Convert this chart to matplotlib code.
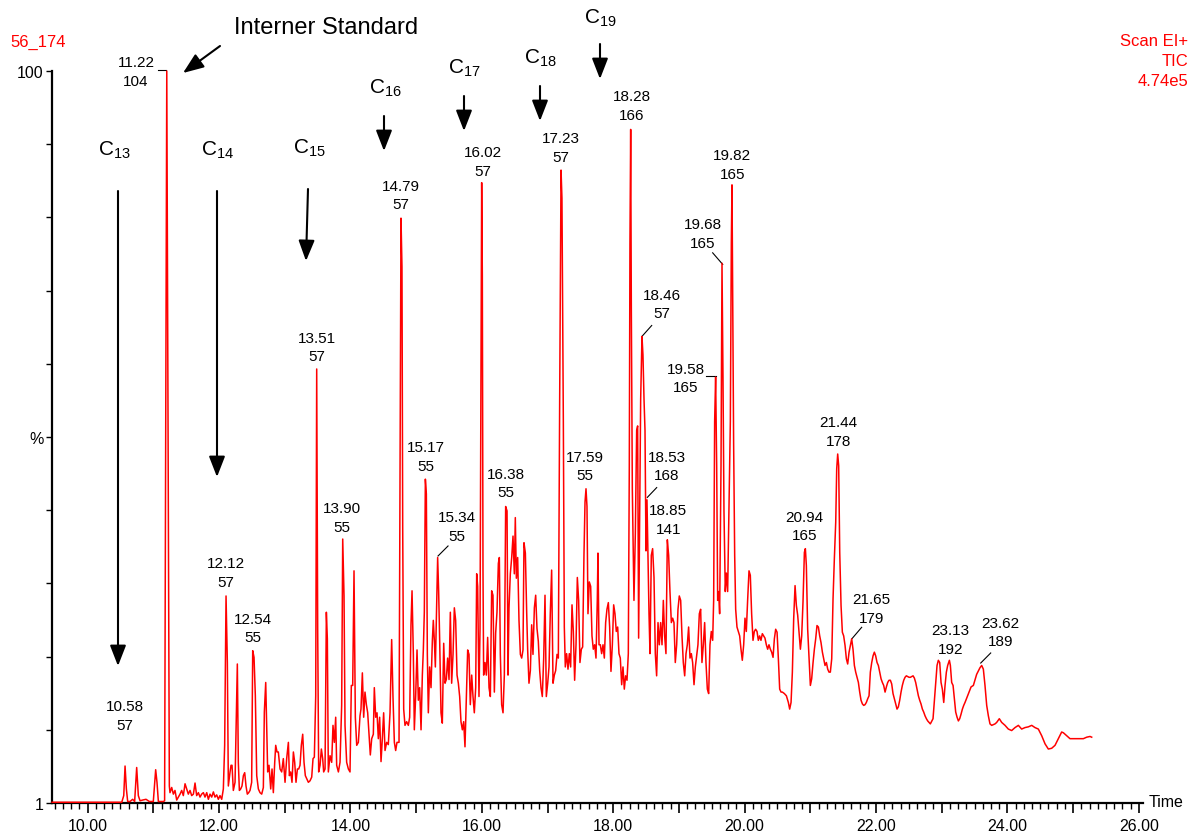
import matplotlib.pyplot as plt
from matplotlib.ticker import MultipleLocator, FixedLocator, FuncFormatter

plt.rcParams['font.family'] = ['Liberation Sans', 'DejaVu Sans']
plt.rcParams['mathtext.fontset'] = 'custom'
plt.rcParams['mathtext.rm'] = 'Liberation Sans'
plt.rcParams['mathtext.it'] = 'Liberation Sans'
plt.rcParams['mathtext.default'] = 'regular'

# === TIC trace: retention time (min) and relative abundance (%) ===
time_min = [
    9.46, 10.52, 10.55, 10.57, 10.59, 10.61, 10.645, 10.686, 10.716, 10.747, 10.772, 10.798,
    10.838, 10.889, 10.94, 11.0, 11.036, 11.056, 11.077, 11.153, 11.172, 11.205,
    11.244, 11.254, 11.28, 11.305, 11.33, 11.356, 11.381, 11.407, 11.432, 11.457, 11.483,
    11.508, 11.533, 11.559, 11.584, 11.61, 11.635, 11.66, 11.686, 11.711, 11.736, 11.762,
    11.787, 11.813, 11.838, 11.863, 11.889, 11.914, 11.939, 11.965, 11.99, 12.015, 12.041,
    12.066, 12.086, 12.107, 12.127, 12.142, 12.168, 12.183, 12.198, 12.218, 12.244, 12.259,
    12.279, 12.294, 12.31, 12.33, 12.35, 12.371, 12.391, 12.411, 12.431, 12.452, 12.472,
    12.497, 12.513, 12.533, 12.553, 12.574, 12.599, 12.624, 12.65, 12.675, 12.69, 12.711,
    12.726, 12.741, 12.761, 12.787, 12.807, 12.827, 12.848, 12.863, 12.883, 12.903, 12.929,
    12.954, 12.979, 13.005, 13.03, 13.056, 13.071, 13.091, 13.111, 13.132, 13.152, 13.172,
    13.193, 13.213, 13.233, 13.253, 13.274, 13.294, 13.314, 13.335, 13.36, 13.385, 13.411,
    13.431, 13.451, 13.472, 13.487, 13.502, 13.517, 13.538, 13.558, 13.578, 13.593, 13.614,
    13.634, 13.649, 13.664, 13.69, 13.715, 13.735, 13.756, 13.776, 13.791, 13.817, 13.842,
    13.867, 13.883, 13.903, 13.918, 13.943, 13.969, 13.994, 14.014, 14.035, 14.055, 14.075,
    14.096, 14.121, 14.146,
    14.161, 14.182, 14.202, 14.222, 14.243, 14.263, 14.283, 14.303, 14.324, 14.349, 14.364,
    14.385, 14.405, 14.425, 14.445, 14.466, 14.486, 14.506, 14.527, 14.552, 14.577, 14.603,
    14.628, 14.648, 14.669, 14.689, 14.709, 14.74, 14.755, 14.77, 14.785, 14.796, 14.811,
    14.831, 14.856, 14.882, 14.902, 14.922, 14.938, 14.958, 14.973, 14.993, 15.014, 15.034,
    15.054, 15.075, 15.095, 15.11, 15.125, 15.141, 15.156, 15.171, 15.186, 15.206, 15.227,
    15.247, 15.262, 15.278, 15.293, 15.308, 15.328, 15.343, 15.359, 15.379, 15.399, 15.42,
    15.44, 15.46, 15.48, 15.501, 15.521, 15.541, 15.562, 15.582, 15.602, 15.623, 15.643,
    15.663, 15.683, 15.704, 15.724, 15.744, 15.765, 15.785, 15.805, 15.825, 15.846, 15.866,
    15.886, 15.907, 15.922, 15.937, 15.957, 15.973, 15.988, 15.998, 16.008, 16.018, 16.028,
    16.049, 16.069, 16.089, 16.11, 16.13, 16.15, 16.17, 16.191, 16.211, 16.231, 16.252,
    16.267, 16.282, 16.302, 16.323, 16.343, 16.363, 16.384, 16.399, 16.414, 16.434, 16.455,
    16.475, 16.495, 16.51, 16.526, 16.546, 16.566, 16.587, 16.607, 16.627, 16.642, 16.663,
    16.683, 16.698, 16.718, 16.739, 16.759, 16.779, 16.8, 16.82, 16.84, 16.86, 16.881,
    16.901, 16.921, 16.942, 16.962, 16.982, 17.003, 17.023, 17.043, 17.063, 17.084, 17.104,
    17.124, 17.145, 17.165, 17.185, 17.206,
    17.22, 17.241, 17.256, 17.271, 17.291, 17.312, 17.332, 17.352, 17.373, 17.393, 17.413,
    17.434, 17.454, 17.474, 17.494, 17.515, 17.535, 17.555, 17.571, 17.586, 17.601, 17.616,
    17.636, 17.657, 17.677, 17.697, 17.718, 17.738, 17.758, 17.768, 17.784, 17.804, 17.824,
    17.845, 17.865, 17.885, 17.905, 17.926, 17.946, 17.966, 17.987, 18.007, 18.027, 18.047,
    18.068, 18.088, 18.108, 18.129, 18.149, 18.169, 18.189, 18.21, 18.23, 18.245, 18.255,
    18.266, 18.276, 18.291, 18.316, 18.337, 18.357, 18.372, 18.387, 18.403, 18.418, 18.438,
    18.453, 18.469, 18.484, 18.499, 18.514, 18.529, 18.545, 18.56, 18.58, 18.6, 18.621,
    18.641, 18.661, 18.682, 18.702, 18.722, 18.743, 18.763, 18.783, 18.803, 18.824, 18.844,
    18.864, 18.885, 18.905, 18.925, 18.945, 18.966, 18.986, 19.006, 19.027, 19.047, 19.067,
    19.088, 19.108, 19.128, 19.148, 19.169, 19.189, 19.209, 19.23, 19.25, 19.27, 19.29,
    19.311, 19.331, 19.351, 19.372, 19.392, 19.412, 19.433, 19.453, 19.473, 19.493, 19.514,
    19.529, 19.544, 19.559, 19.575, 19.59, 19.605, 19.62, 19.641, 19.656, 19.671, 19.686,
    19.706, 19.722, 19.742, 19.762, 19.783, 19.798, 19.808, 19.818, 19.833, 19.849, 19.864,
    19.884, 19.904, 19.925, 19.945, 19.965, 19.986, 20.006, 20.026, 20.046, 20.067, 20.087,
    20.107, 20.128, 20.148, 20.168, 20.189, 20.209, 20.229, 20.249, 20.27, 20.29, 20.31,
    20.331, 20.351, 20.371,
    20.392, 20.412, 20.433, 20.453, 20.473, 20.494, 20.514, 20.534, 20.555, 20.575, 20.605,
    20.636, 20.666, 20.686, 20.707, 20.727, 20.747, 20.768, 20.788, 20.808, 20.829, 20.849,
    20.869, 20.889, 20.91, 20.925, 20.94, 20.96, 20.981, 21.001, 21.021, 21.042, 21.062,
    21.082, 21.102, 21.123, 21.143, 21.163, 21.184, 21.204, 21.224, 21.245, 21.265, 21.285,
    21.305, 21.326, 21.346, 21.366, 21.387, 21.402, 21.417, 21.432, 21.448, 21.468, 21.488,
    21.508, 21.529, 21.549, 21.569, 21.59, 21.61, 21.63, 21.65, 21.671, 21.691, 21.711,
    21.732, 21.752, 21.772, 21.793, 21.813, 21.833, 21.853, 21.874, 21.894, 21.914, 21.935,
    21.955, 21.975, 21.995, 22.016, 22.036, 22.056, 22.077, 22.097, 22.117, 22.138, 22.158,
    22.178, 22.198, 22.219, 22.239, 22.259, 22.28, 22.3, 22.32, 22.34, 22.361, 22.381,
    22.401, 22.422, 22.442, 22.462, 22.483, 22.503, 22.523, 22.543, 22.564, 22.584, 22.604,
    22.625, 22.645, 22.665, 22.685, 22.706, 22.726, 22.746, 22.767, 22.787, 22.807, 22.827,
    22.868, 22.898, 22.929, 22.949, 22.97, 22.99, 23.01, 23.031, 23.051, 23.071, 23.091,
    23.117, 23.132, 23.152, 23.173, 23.193, 23.213, 23.234, 23.254, 23.274, 23.294, 23.315,
    23.335, 23.355, 23.386, 23.416, 23.447,
    23.482, 23.532, 23.583, 23.609, 23.634, 23.659, 23.685, 23.71, 23.735, 23.761, 23.812,
    23.837, 23.877, 23.913, 23.964, 24.014, 24.065, 24.116, 24.167, 24.217, 24.268, 24.319,
    24.37, 24.42, 24.471, 24.522, 24.573, 24.623, 24.674, 24.725, 24.775, 24.826, 24.852,
    24.902, 24.953, 25.004, 25.055, 25.105, 25.156, 25.207, 25.258, 25.283,
]
intensity_pct = [
    1.1, 1.1, 2.0, 6.0, 2.9, 1.2, 1.2, 1.5, 1.2, 5.8, 2.0, 1.3,
    1.4, 1.5, 1.2, 1.2, 5.5, 3.8, 1.2, 1.2, 1.3, 100.0,
    3.3, 2.4, 3.1, 2.2, 2.7, 1.4, 1.8, 2.2, 2.7, 2.0, 3.6,
    2.9, 2.2, 2.7, 2.0, 2.2, 3.7, 2.0, 2.4, 1.8, 2.2, 2.4,
    1.8, 2.4, 1.5, 2.2, 1.8, 2.5, 1.8, 2.1, 1.5, 2.0, 1.5,
    2.9, 8.8, 29.0, 20.0, 3.3, 5.2, 6.1, 6.1, 2.7, 3.8, 11.0,
    19.8, 6.5, 2.7, 2.9, 3.3, 4.7, 5.1, 3.3, 2.2, 2.4, 2.7,
    3.8, 21.6, 20.7, 15.5, 4.7, 2.9, 2.4, 2.2, 3.1, 13.3, 17.3,
    11.0, 5.2, 6.1, 2.9, 5.6, 2.4, 6.5, 8.8, 7.9, 7.9, 5.6,
    5.2, 7.0, 3.8, 7.0, 9.2, 4.7, 5.2, 3.8, 7.9, 6.5, 3.8,
    5.6, 5.6, 6.1, 8.8, 10.3, 6.5, 4.7, 4.3, 3.8, 4.0, 4.5,
    7.0, 7.2, 15.5, 59.7, 24.5, 5.2, 6.1, 8.3, 7.0, 5.2, 5.6,
    26.8, 23.2, 5.2, 7.4, 6.5, 11.5, 9.2, 12.6, 6.1, 5.2, 6.5,
    14.2, 36.7, 29.0, 11.5, 6.5, 5.6, 5.2, 16.9, 16.9, 32.4, 12.6,
    8.8, 9.2, 12.8,
    13.7, 18.6, 12.6, 16.0, 14.3, 13.2, 10.3, 7.5, 9.7, 10.3, 16.6,
    12.6, 13.2, 9.7, 12.6, 6.6, 9.7, 13.2, 8.1, 9.2, 8.9, 13.2,
    23.1, 15.4, 9.2, 8.1, 9.2, 9.2, 43.9, 80.1, 73.5, 38.2, 13.7,
    11.5, 12.0, 11.5, 12.6, 25.1, 29.7, 21.1, 10.9, 15.4, 21.7, 14.9,
    16.6, 10.9, 18.3, 21.7, 26.8, 44.8, 42.8, 21.1, 13.2, 19.4, 16.6,
    22.9, 25.7, 22.9, 19.4, 25.7, 34.2, 29.7, 22.9, 13.2, 11.8, 22.6,
    17.2, 17.7, 20.6, 17.7, 26.8, 17.2, 21.1, 27.4, 25.7, 18.3, 17.2,
    15.4, 12.0, 10.9, 12.0, 8.6, 15.4, 21.7, 21.1, 14.3, 18.3, 15.4,
    13.2, 16.6, 32.0, 30.3, 15.4, 24.6, 61.0, 84.9, 72.4, 32.5, 18.3,
    20.0, 18.3, 23.4, 16.6, 15.4, 29.7, 29.1, 16.0, 24.0, 26.8, 33.4,
    34.2, 21.1, 14.3, 13.2, 18.3, 41.1, 40.5, 18.3, 27.4, 32.0, 34.2,
    37.1, 32.0, 39.6, 31.4, 34.2, 25.7, 21.1, 20.6, 21.7, 36.2, 34.8,
    26.8, 21.7, 17.2, 18.9, 25.1, 21.1, 27.4, 29.1, 24.6, 22.9, 18.9,
    16.6, 15.4, 20.6, 29.1, 15.4, 17.2, 19.4, 26.8, 32.5, 17.2, 18.3,
    18.9, 21.1, 20.6, 55.3, 86.6,
    82.8, 52.6, 24.8, 19.4, 21.2, 19.1, 21.2, 19.4, 27.8, 24.2, 17.6,
    22.4, 31.5, 28.4, 20.0, 21.8, 22.1, 34.5, 41.7, 43.5, 41.1, 26.6,
    30.9, 30.3, 23.6, 21.8, 22.4, 20.6, 28.4, 34.8, 22.4, 22.4, 21.2,
    22.4, 20.6, 25.4, 27.2, 28.1, 24.8, 18.8, 22.4, 27.8, 26.6, 24.2,
    24.8, 21.2, 20.6, 17.0, 19.4, 16.4, 18.2, 17.6, 21.2, 46.6, 76.7,
    92.1, 67.7, 43.5, 28.4, 37.5, 51.4, 52.0, 23.3, 40.5, 55.6, 64.1,
    61.6, 55.6, 51.4, 35.1, 42.0, 34.5, 26.6, 21.2, 34.5, 35.4, 31.5,
    21.2, 18.2, 25.4, 22.4, 25.4, 22.4, 28.4, 23.6, 21.2, 36.6, 34.5,
    29.6, 25.4, 26.0, 25.4, 20.0, 22.4, 27.2, 29.0, 28.4, 23.6, 20.0,
    18.2, 21.2, 22.4, 24.8, 20.6, 21.2, 20.0, 17.0, 19.4, 20.9, 22.4,
    26.6, 27.2, 20.0, 22.4, 25.4, 20.0, 16.4, 15.8, 22.4, 24.2, 23.0,
    28.4, 52.6, 58.6, 46.6, 28.4, 29.6, 26.6, 46.6, 74.0, 58.6, 40.5,
    29.6, 32.1, 29.6, 40.5, 52.6, 76.7, 84.6, 70.7, 49.6, 34.5, 27.2,
    24.8, 24.2, 23.6, 21.8, 20.3, 22.4, 26.0, 24.2, 28.4, 32.4, 31.8,
    26.6, 23.0, 24.2, 24.5, 24.2, 23.0, 23.6, 23.0, 23.9, 23.6, 23.3,
    22.4, 21.8, 22.4,
    21.8, 21.4, 20.7, 23.2, 24.5, 24.1, 20.5, 16.4, 16.0, 16.0, 15.8,
    15.5, 14.6, 13.7, 14.6, 18.7, 25.9, 30.4, 27.7, 26.4, 24.1, 21.8,
    23.6, 28.2, 34.9, 35.4, 33.1, 24.5, 20.5, 16.9, 17.8, 20.0, 21.8,
    23.2, 25.0, 24.8, 23.6, 22.7, 21.4, 20.5, 19.6, 20.0, 19.1, 18.7,
    18.7, 20.5, 28.6, 34.0, 39.0, 46.2, 48.2, 46.6, 34.9, 27.7, 24.1,
    23.6, 22.3, 20.5, 19.8, 21.4, 22.3, 23.2, 21.8, 19.6, 18.7, 18.0,
    17.3, 16.0, 14.9, 14.4, 14.2, 14.3, 14.6, 15.1, 15.5, 18.7, 20.0,
    20.9, 21.4, 20.9, 20.0, 19.6, 18.7, 17.8, 17.3, 16.9, 16.0, 16.7,
    17.3, 17.6, 17.6, 17.1, 15.8, 15.1, 14.4, 13.7, 14.0, 14.9, 16.0,
    16.9, 17.6, 18.0, 18.2, 18.1, 18.0, 18.0, 18.1, 18.2, 17.9, 17.3,
    16.4, 15.5, 14.9, 14.4, 13.7, 13.3, 12.8, 12.4, 12.1, 11.9, 11.7,
    12.4, 16.0, 19.6, 20.3, 20.0, 17.3, 16.4, 14.6, 16.9, 18.7, 19.6,
    20.3, 19.6, 17.3, 16.9, 15.1, 13.3, 12.6, 12.1, 12.4, 13.0, 13.7,
    14.2, 14.6, 15.3, 16.0, 16.7,
    16.9, 18.4, 19.3, 19.6, 19.1, 16.9, 14.2, 12.8, 11.7, 11.5, 11.7,
    11.9, 12.4, 11.9, 11.5, 11.0, 10.8, 11.2, 11.5, 11.0, 11.2, 11.3,
    11.5, 11.2, 11.0, 10.1, 9.0, 8.3, 8.4, 8.8, 9.7, 10.6, 10.5,
    10.1, 9.7, 9.7, 9.7, 9.7, 9.7, 9.9, 10.0, 9.9,
]

# === Peak annotations: retention time and base mass ===
peak_rt = ['10.58', '11.22', '12.12', '12.54', '13.51', '13.90', '14.79', '15.17', '15.34',
           '16.02', '16.38', '17.23', '17.59', '18.28', '18.46', '18.53', '18.85', '19.58',
           '19.68', '19.82', '20.94', '21.44', '21.65', '23.13', '23.62']
peak_mz = ['57', '104', '57', '55', '57', '55', '57', '55', '55',
           '57', '55', '57', '55', '166', '57', '168', '141', '165',
           '165', '165', '165', '178', '179', '192', '189']
# label centre (time, %)
label_x = [10.569, 10.737, 12.107, 12.518, 13.487, 13.875, 14.770, 15.146, 15.623,
           16.011, 16.361, 17.205, 17.571, 18.279, 18.738, 18.819, 18.839, 19.108,
           19.367, 19.813, 20.912, 21.426, 21.928, 23.131, 23.898]
label_y = [12.83, 99.94, 32.11, 24.67, 62.67, 39.55, 83.23, 47.85, 38.40,
           87.76, 44.28, 89.66, 46.58, 95.27, 68.49, 46.58, 39.28, 58.48,
           78.05, 87.38, 38.46, 51.22, 27.33, 23.14, 24.13]
# short leader lines from label to peak
leaders = [((11.072, 11.193), (100.14, 100.14)),
           ((15.486, 15.334), (35.76, 34.41)),
           ((18.586, 18.434), (65.58, 64.07)),
           ((18.662, 18.519), (43.66, 42.33)),
           ((19.413, 19.565), (58.75, 58.75)),
           ((19.514, 19.667), (75.41, 73.84)),
           ((21.782, 21.630), (24.76, 23.18)),
           ((23.746, 23.594), (21.29, 19.93))]

# alkane markers: label text, text position and arrow (pixels from top-left)
alkane_names = ['13', '14', '15', '16', '17', '18', '19']
alkane_text_px = [(114, 150), (218, 150), (309, 148), (385, 88), (464, 68), (540, 58), (600, 18)]
alkane_arrow_px = [((118, 192), (118, 667)), ((217, 192), (217, 478)), ((308, 190), (306, 262)),
                   ((384, 117), (384, 152)), ((464, 97), (464, 132)), ((540, 87), (540, 122)),
                   ((600, 45), (600, 80))]

W, H = 1198, 837


def fp(x, y):
    return (x / W, 1 - y / H)


fig = plt.figure(figsize=(W / 100, H / 100), dpi=100)
ax = fig.add_axes([52 / W, 1 - 804 / H, (1143 - 52) / W, (804 - 72) / H])

ax.plot(time_min, intensity_pct, color='#ff0000', lw=1.1, clip_on=False, zorder=3)

ax.set_xlim(9.458, 26.064)
ax.set_ylim(1, 100)

for s in ['top', 'right']:
    ax.spines[s].set_visible(False)
for s in ['left', 'bottom']:
    ax.spines[s].set_linewidth(1.6)

ax.xaxis.set_major_locator(MultipleLocator(1))
ax.xaxis.set_minor_locator(MultipleLocator(0.125))
ax.xaxis.set_major_formatter(FuncFormatter(lambda v, p: f'{v:.2f}' if round(v) % 2 == 0 else ''))
ax.tick_params(axis='x', which='major', length=7, width=1.2, labelsize=11.5, pad=4)
ax.tick_params(axis='x', which='minor', length=4, width=1.0)

yt = [1 + 9.9 * k for k in range(11)]
ax.yaxis.set_major_locator(FixedLocator(yt))
ax.set_yticklabels(['1', '', '', '', '', '%', '', '', '', '', '100'])
ax.tick_params(axis='y', which='major', length=4, width=1.0, labelsize=11.5, pad=2)

# peak labels
for rt, mz, x, y in zip(peak_rt, peak_mz, label_x, label_y):
    ax.text(x, y, f'{rt}\n{mz}', ha='center', va='center', fontsize=11, linespacing=1.45,
            clip_on=False)
for xs, ys in leaders:
    ax.plot(xs, ys, color='black', lw=0.8, clip_on=False)

# header texts
fig.text(*fp(10, 42), '56_174', color='red', fontsize=12, ha='left', va='center')
fig.text(*fp(1188, 42), 'Scan EI+', color='red', fontsize=12, ha='right', va='center')
fig.text(*fp(1188, 62), 'TIC', color='red', fontsize=12, ha='right', va='center')
fig.text(*fp(1188, 82), '4.74e5', color='red', fontsize=12, ha='right', va='center')
fig.text(*fp(1149, 803), 'Time', fontsize=11.5, ha='left', va='center')

arrow_style = dict(arrowstyle='-|>,head_length=0.9,head_width=0.35', color='black', lw=1.5,
                   mutation_scale=14, shrinkA=0, shrinkB=0)

for name, (tx, ty), (a0, a1) in zip(alkane_names, alkane_text_px, alkane_arrow_px):
    fig.text(*fp(tx, ty), r'C$_{' + name + '}$', fontsize=15, ha='center', va='center')
    ax.annotate('', xy=fp(*a1), xytext=fp(*a0), xycoords='figure fraction',
                textcoords='figure fraction', arrowprops=arrow_style)

fig.text(*fp(326, 28), 'Interner Standard', fontsize=17, ha='center', va='center')
ax.annotate('', xy=fp(183, 74), xytext=fp(220, 47), xycoords='figure fraction',
            textcoords='figure fraction', arrowprops=arrow_style)

fig.savefig('out.png', dpi=100)
